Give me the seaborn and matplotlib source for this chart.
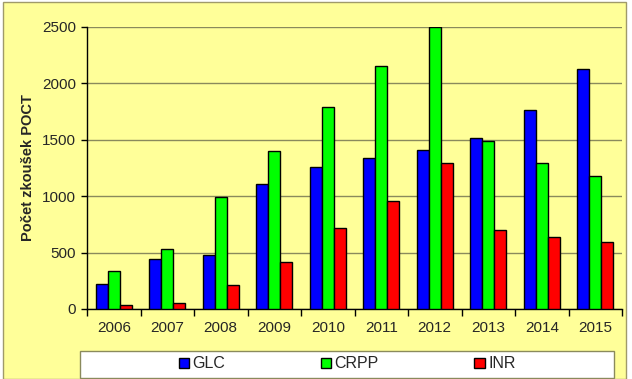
import numpy as np
import pandas as pd
import matplotlib
matplotlib.use("Agg")
import matplotlib.pyplot as plt
import seaborn as sns
from matplotlib.patches import Rectangle, Patch

years = ["2006", "2007", "2008", "2009", "2010", "2011", "2012", "2013", "2014", "2015"]
glc = [222, 440, 476, 1110, 1259, 1339, 1410, 1516, 1761, 2125]
crpp = [340, 535, 995, 1403, 1793, 2157, 2500, 1487, 1291, 1182]
inr = [33, 56, 215, 417, 718, 957, 1297, 700, 641, 594]
series = ["GLC", "CRPP", "INR"]
COLORS = {"GLC": "#0000FF", "CRPP": "#00FF00", "INR": "#FF0000"}
BG = "#FFFF99"

df = pd.DataFrame({"Rok": years * 3,
                   "Serie": ["GLC"] * 10 + ["CRPP"] * 10 + ["INR"] * 10,
                   "Pocet": glc + crpp + inr})

sns.set_theme(style="white")
plt.rcParams["font.family"] = ["Liberation Sans", "DejaVu Sans"]

W, H = 632, 379
fig = plt.figure(figsize=(W / 100, H / 100), dpi=100)
fig.patch.set_facecolor("white")

# outer yellow chart area with grey border
fig.patches.append(Rectangle((3 / W, 0), 623 / W, 1 - 2 / H, transform=fig.transFigure,
                             facecolor=BG, edgecolor="#A09A6A", linewidth=1, zorder=-5))

ax = fig.add_axes([87 / W, 1 - 309 / H, (622 - 87) / W, (309 - 27) / H])
ax.set_facecolor(BG)

sns.barplot(data=df, x="Rok", y="Pocet", hue="Serie", hue_order=series, order=years,
            palette=COLORS, width=0.67, edgecolor="black", linewidth=1,
            saturation=1, ax=ax, legend=False, zorder=3)

ax.set_xlim(-0.5, 9.5)
ax.set_ylim(0, 2500)
ax.set_yticks(np.arange(0, 2501, 500))
ax.yaxis.grid(True, color="#8A8A5C", linewidth=1, zorder=0)
ax.set_axisbelow(True)
for s in ["top", "right"]:
    ax.spines[s].set_visible(False)
for s in ["left", "bottom"]:
    ax.spines[s].set_color("black")
    ax.spines[s].set_linewidth(1)

ax.tick_params(axis="x", which="major", length=0, labelsize=11, pad=9)
ax.set_xticks(np.arange(-0.5, 10, 1), minor=True)
ax.tick_params(axis="x", which="minor", length=5, color="black", width=1, bottom=True)
ax.tick_params(axis="y", length=4, color="black", width=1, left=True, labelsize=11, pad=4)

ax.set_xlabel("")
ax.set_ylabel("Počet zkoušek POCT", fontsize=10.5, fontweight="bold", labelpad=5)

# legend box
fig.patches.append(Rectangle((80 / W, 1 - 378 / H), 534 / W, 27 / H, transform=fig.transFigure,
                             facecolor="white", edgecolor="#8A8A5C", linewidth=1, zorder=1))
handles = [Patch(facecolor=COLORS[s], edgecolor="black", linewidth=1, label=s) for s in series]
fig.legend(handles=handles, loc="center", bbox_to_anchor=(347 / W, 1 - 364 / H), ncol=3,
           frameon=False, fontsize=11.5, handlelength=0.65, handleheight=0.65,
           handletextpad=0.2, columnspacing=6.0)

fig.savefig("out.png", dpi=100, facecolor="white")
